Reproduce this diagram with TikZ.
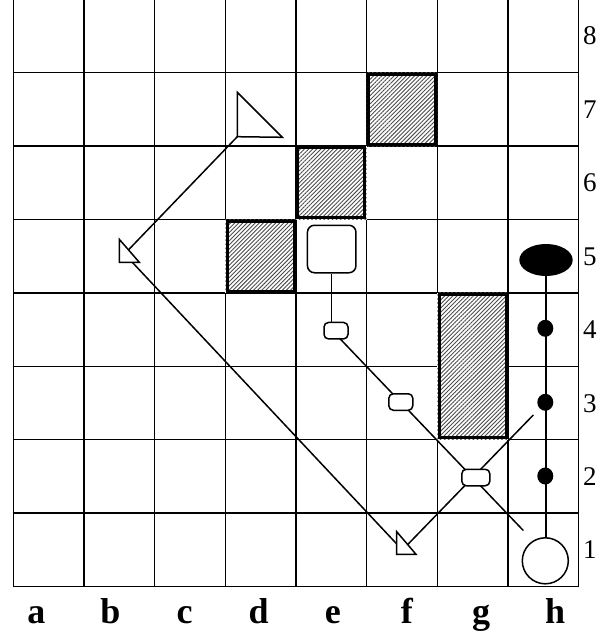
\documentclass[tikz,border=0pt]{standalone}
\usepackage{fontspec}
\setmainfont{Liberation Serif}
\usetikzlibrary{patterns.meta,shapes.geometric}
\begin{document}
\begin{tikzpicture}[x=1pt,y=-1pt,
  gridline/.style={line width=1.5pt},
  hatchbox/.style={pattern={Lines[angle=45,distance=2.9pt,line width=0.9pt]},pattern color=black!70},
  thickbox/.style={draw=black,line width=3pt},
  conn/.style={line width=1.5pt},
  piece/.style={draw,line width=1.5pt,fill=white,inner sep=0pt},
  smallpiece/.style={piece,rounded corners=4.5pt,minimum width=24pt,minimum height=16.5pt},
  bigpiece/.style={piece,rounded corners=7pt,minimum width=48.5pt,minimum height=47.5pt},
  dotpiece/.style={ellipse,fill=black,inner sep=0pt,minimum width=16pt,minimum height=17pt},
  tri/.style={draw,line width=1.5pt,fill=white,line join=miter},
  rowlab/.style={font=\fontsize{27}{27}\selectfont,anchor=base west,inner sep=0pt},
  collab/.style={font=\bfseries\fontsize{36}{36}\selectfont,anchor=base,inner sep=0pt}
]
\useasboundingbox (0,0) rectangle (600,634);
% grid
\foreach \i in {0,...,8} {
  \draw[gridline] ({13.4+\i*70.65},-0.7) -- ({13.4+\i*70.65},586.5);
  \draw[gridline] (13.4,{-0.7+\i*73.4}) -- (578.6,{-0.7+\i*73.4});
}
% hatched squares
\foreach \xa/\ya/\xb/\yb in {366.65/72.7/437.3/146.1, 296.0/146.1/366.65/219.5, 225.35/219.5/296.0/292.9, 437.3/292.9/507.95/439.7} {
  \fill[white] (\xa,\ya) rectangle (\xb,\yb);
  \fill[hatchbox] (\xa,\ya) rectangle (\xb,\yb);
  \draw[thickbox] (\xa+1.8,\ya+1.8) rectangle (\xb-1.8,\yb-1.8);
}
% anchor points for the connectors
\coordinate (tD7) at (237.3,136.7);
\coordinate (pB5) at (124.5,254);
\coordinate (pF1) at (402.4,550);
\coordinate (endH3) at (533.3,415);
\coordinate (pE4) at (331.3,329.6);
\coordinate (endH1) at (523.3,530.5);
% connectors
\draw[conn] (tD7) -- (pB5);
\draw[conn] (pB5) -- (pF1);
\draw[conn] (pF1) -- (endH3);
\draw[conn] (pE4) -- (endH1);
% pieces e-file
\node[bigpiece] (sqE5) at (331.7,249) {};
\node[smallpiece] (rE4) at (336,330.7) {};
\draw[conn] (sqE5.south) -- (sqE5.south |- rE4.north);
\node[smallpiece] (rF3) at (400.8,402) {};
\node[smallpiece,minimum width=28pt] (rG2) at (475.8,477.5) {};
% h-file
\node[ellipse,fill=black,inner sep=0pt,minimum width=53.4pt,minimum height=32pt] (ellH5) at (546,260) {};
\node[piece,circle,minimum size=46pt] (circH1) at (545.3,560.8) {};
\draw[conn] (ellH5.south) -- (ellH5.south |- circH1.north);
\node[dotpiece] (dH4) at (545.3,328.3) {};
\node[dotpiece] (dH3) at (545.3,402.3) {};
\node[dotpiece] (dH2) at (545.3,476) {};
% triangles
\filldraw[tri] (237.3,92.3) -- (tD7) -- (282.3,137.3) -- cycle;
\filldraw[tri] (119.3,239.3) -- (119.3,262.3) -- (139.3,262.3) -- cycle;
\filldraw[tri] (396.7,531.7) -- (396.7,554.3) -- (416,554.3) -- cycle;
% row labels
\foreach \r in {1,...,8} {
  \node[rowlab] (row\r) at (583,{-0.7+(8.5-\r)*73.4+9}) {\r};
}
% column labels
\foreach \c [count=\k from 0] in {a,b,c,d,e,f,g,h} {
  \node[collab] (col\c) at ({36.4+\k*74.1},623) {\c};
}
\end{tikzpicture}
\end{document}
